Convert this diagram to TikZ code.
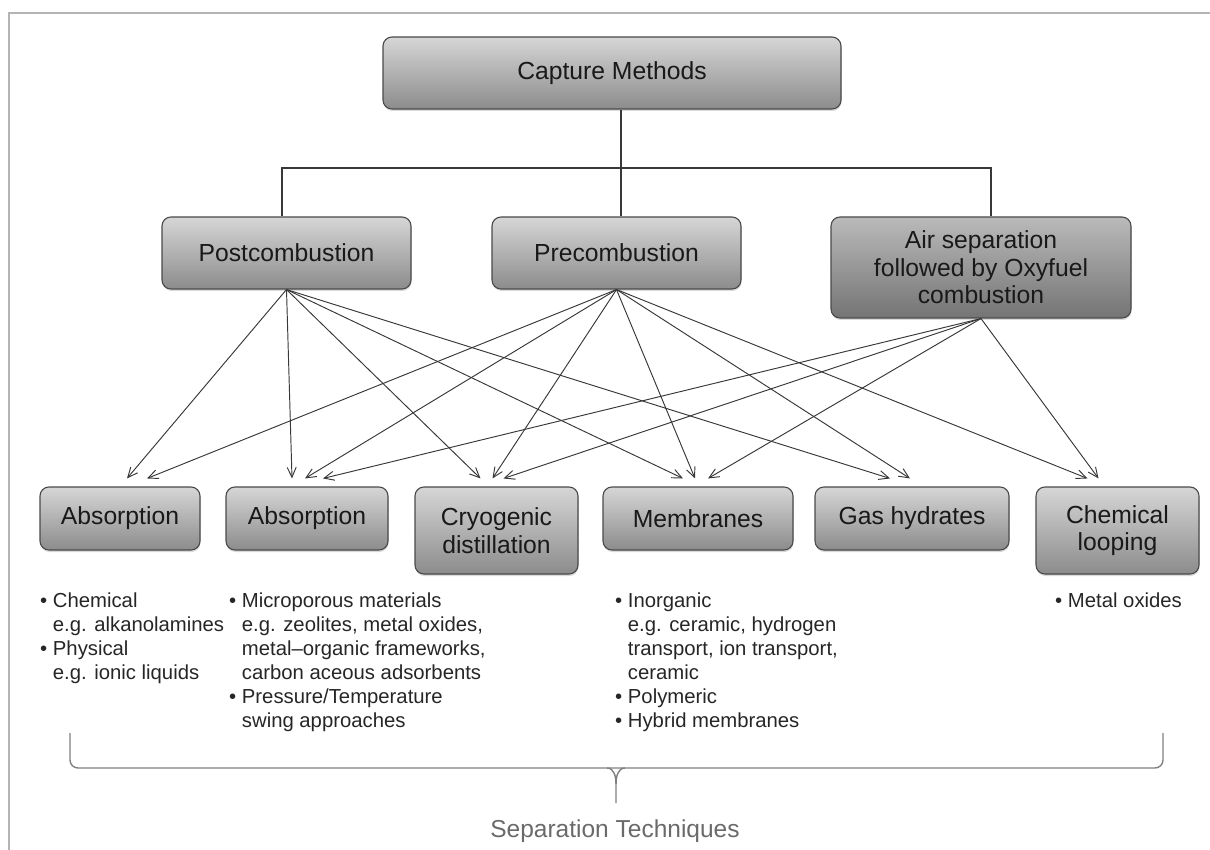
\documentclass[tikz,border=0pt]{standalone}
\usepackage{fontspec}
\setmainfont{Liberation Sans}
\usetikzlibrary{arrows.meta,shadows,calc}
\definecolor{boxtop}{HTML}{D6D6D6}
\definecolor{boxbot}{HTML}{8C8C8C}
\definecolor{dtop}{HTML}{BABABA}
\definecolor{dbot}{HTML}{747474}
\definecolor{boxline}{HTML}{4A4A4A}
\definecolor{arrcol}{HTML}{383838}
\definecolor{bracecol}{HTML}{808080}
\definecolor{framecol}{HTML}{B4B4B4}
\definecolor{labcol}{HTML}{6A6A6A}
\begin{document}
\begin{tikzpicture}[x=1pt,y=-1pt,
  box/.style={draw=boxline, line width=1.1pt, rounded corners=9pt,
    top color=boxtop, bottom color=boxbot, text=black!90,
    font=\fontsize{24.7}{27.5}\selectfont, align=center, inner sep=0pt,
    drop shadow={shadow xshift=0.5pt, shadow yshift=-2pt, opacity=0.3}},
  darkbox/.style={box, top color=dtop, bottom color=dbot},
  arr/.style={draw=arrcol, line width=0.95pt, -{Straight Barb[length=10pt,width=9pt]}},
  bul/.style={font=\fontsize{20.3}{24}\selectfont, align=left, anchor=north west,
    inner sep=0pt, text=black!85},
  tree/.style={draw=arrcol, line width=1.3pt},
  bracestyle/.style={draw=bracecol, line width=1.4pt}]
\useasboundingbox (0,0) rectangle (1210,850);
% frame
\draw[framecol, line width=2pt] (1210,13) -- (9,13) -- (9,850);

% top level
\node[box, minimum width=458pt, minimum height=72pt] (cap) at (612,73) {Capture Methods};
\node[box, minimum width=249pt, minimum height=72pt] (post) at (286.5,253) {Postcombustion};
\node[box, minimum width=249pt, minimum height=72pt] (pre) at (616.5,253) {Precombustion};
\node[darkbox, minimum width=300pt, minimum height=101pt] (air) at (981,267.5)
  {Air separation\\followed by Oxyfuel\\combustion};

% tree connectors
\coordinate (jL) at (282,168);
\coordinate (jM) at (621,168);
\coordinate (jR) at (991,168);
\draw[tree] (post.north -| jL) -- (jL) -- (jR) -- (air.north -| jR);
\draw[tree] (cap.south -| jM) -- (pre.north -| jM);

% separation techniques
\node[box, minimum width=160pt, minimum height=63pt] (abs1) at (120,518.5) {Absorption};
\node[box, minimum width=162pt, minimum height=63pt] (abs2) at (307,518.5) {Absorption};
\node[box, minimum width=163pt, minimum height=87pt] (cryo) at (496.5,530.5) {Cryogenic\\distillation};
\node[box, minimum width=190pt, minimum height=63pt] (mem) at (698,518.5) {Membranes};
\node[box, minimum width=194pt, minimum height=63pt] (gas) at (912,518.5) {Gas hydrates};
\node[box, minimum width=163pt, minimum height=87pt] (chem) at (1117.5,530.5) {Chemical\\looping};

% arrows from Postcombustion
\draw[arr] (post.south) -- ([xshift=7pt,yshift=8pt]abs1.north);
\draw[arr] (post.south) -- ([xshift=-15pt,yshift=8pt]abs2.north);
\draw[arr] (post.south) -- ([xshift=-16pt,yshift=8pt]cryo.north);
\draw[arr] (post.south) -- ([xshift=-15pt,yshift=8pt]mem.north);
\draw[arr] (post.south) -- ([xshift=-22pt,yshift=8pt]gas.north);
% arrows from Precombustion
\draw[arr] (pre.south) -- ([xshift=27pt,yshift=8pt]abs1.north);
\draw[arr] (pre.south) -- ([xshift=-2pt,yshift=8pt]abs2.north);
\draw[arr] (pre.south) -- ([xshift=-4pt,yshift=8pt]cryo.north);
\draw[arr] (pre.south) -- ([xshift=-3pt,yshift=8pt]mem.north);
\draw[arr] (pre.south) -- ([xshift=-2pt,yshift=8pt]gas.north);
\draw[arr] (pre.south) -- ([xshift=-30pt,yshift=8pt]chem.north);
% arrows from Air separation
\draw[arr] (air.south) -- ([xshift=16pt,yshift=8pt]abs2.north);
\draw[arr] (air.south) -- ([xshift=7pt,yshift=8pt]cryo.north);
\draw[arr] (air.south) -- ([xshift=10pt,yshift=8pt]mem.north);
\draw[arr] (air.south) -- ([xshift=-19pt,yshift=8pt]chem.north);

% bullet texts
\node[bul] (t1) at (40,593) {•\ Chemical\\\hphantom{•\ }e.g. alkanolamines\\•\ Physical\\\hphantom{•\ }e.g. ionic liquids};
\node[bul] (t2) at (229,593) {•\ Microporous materials\\\hphantom{•\ }e.g. zeolites, metal oxides,\\\hphantom{•\ }metal–organic frameworks,\\\hphantom{•\ }carbon aceous adsorbents\\•\ Pressure/Temperature\\\hphantom{•\ }swing approaches};
\node[bul] (t3) at (615,593) {•\ Inorganic\\\hphantom{•\ }e.g. ceramic, hydrogen\\\hphantom{•\ }transport, ion transport,\\\hphantom{•\ }ceramic\\•\ Polymeric\\•\ Hybrid membranes};
\node[bul] (t4) at (1055,593) {•\ Metal oxides};

% brace
\coordinate (bL) at (70,733);
\coordinate (bR) at (1163,733);
\coordinate (bT) at (616,803);
\draw[bracestyle, rounded corners=8pt] (bL) -- (bL |- 0,768) -- (bR |- 0,768) -- (bR);
\draw[bracestyle] ($(bT |- 0,768)+(-9,0)$) to[out=0,in=90] ($(bT |- 0,768)+(0,16)$) -- (bT);
\draw[bracestyle] ($(bT |- 0,768)+(9,0)$) to[out=180,in=90] ($(bT |- 0,768)+(0,16)$);
\node[text=labcol, font=\fontsize{24.5}{28}\selectfont, anchor=base, inner sep=0pt] (sep) at (615,837) {Separation Techniques};
\end{tikzpicture}
\end{document}
